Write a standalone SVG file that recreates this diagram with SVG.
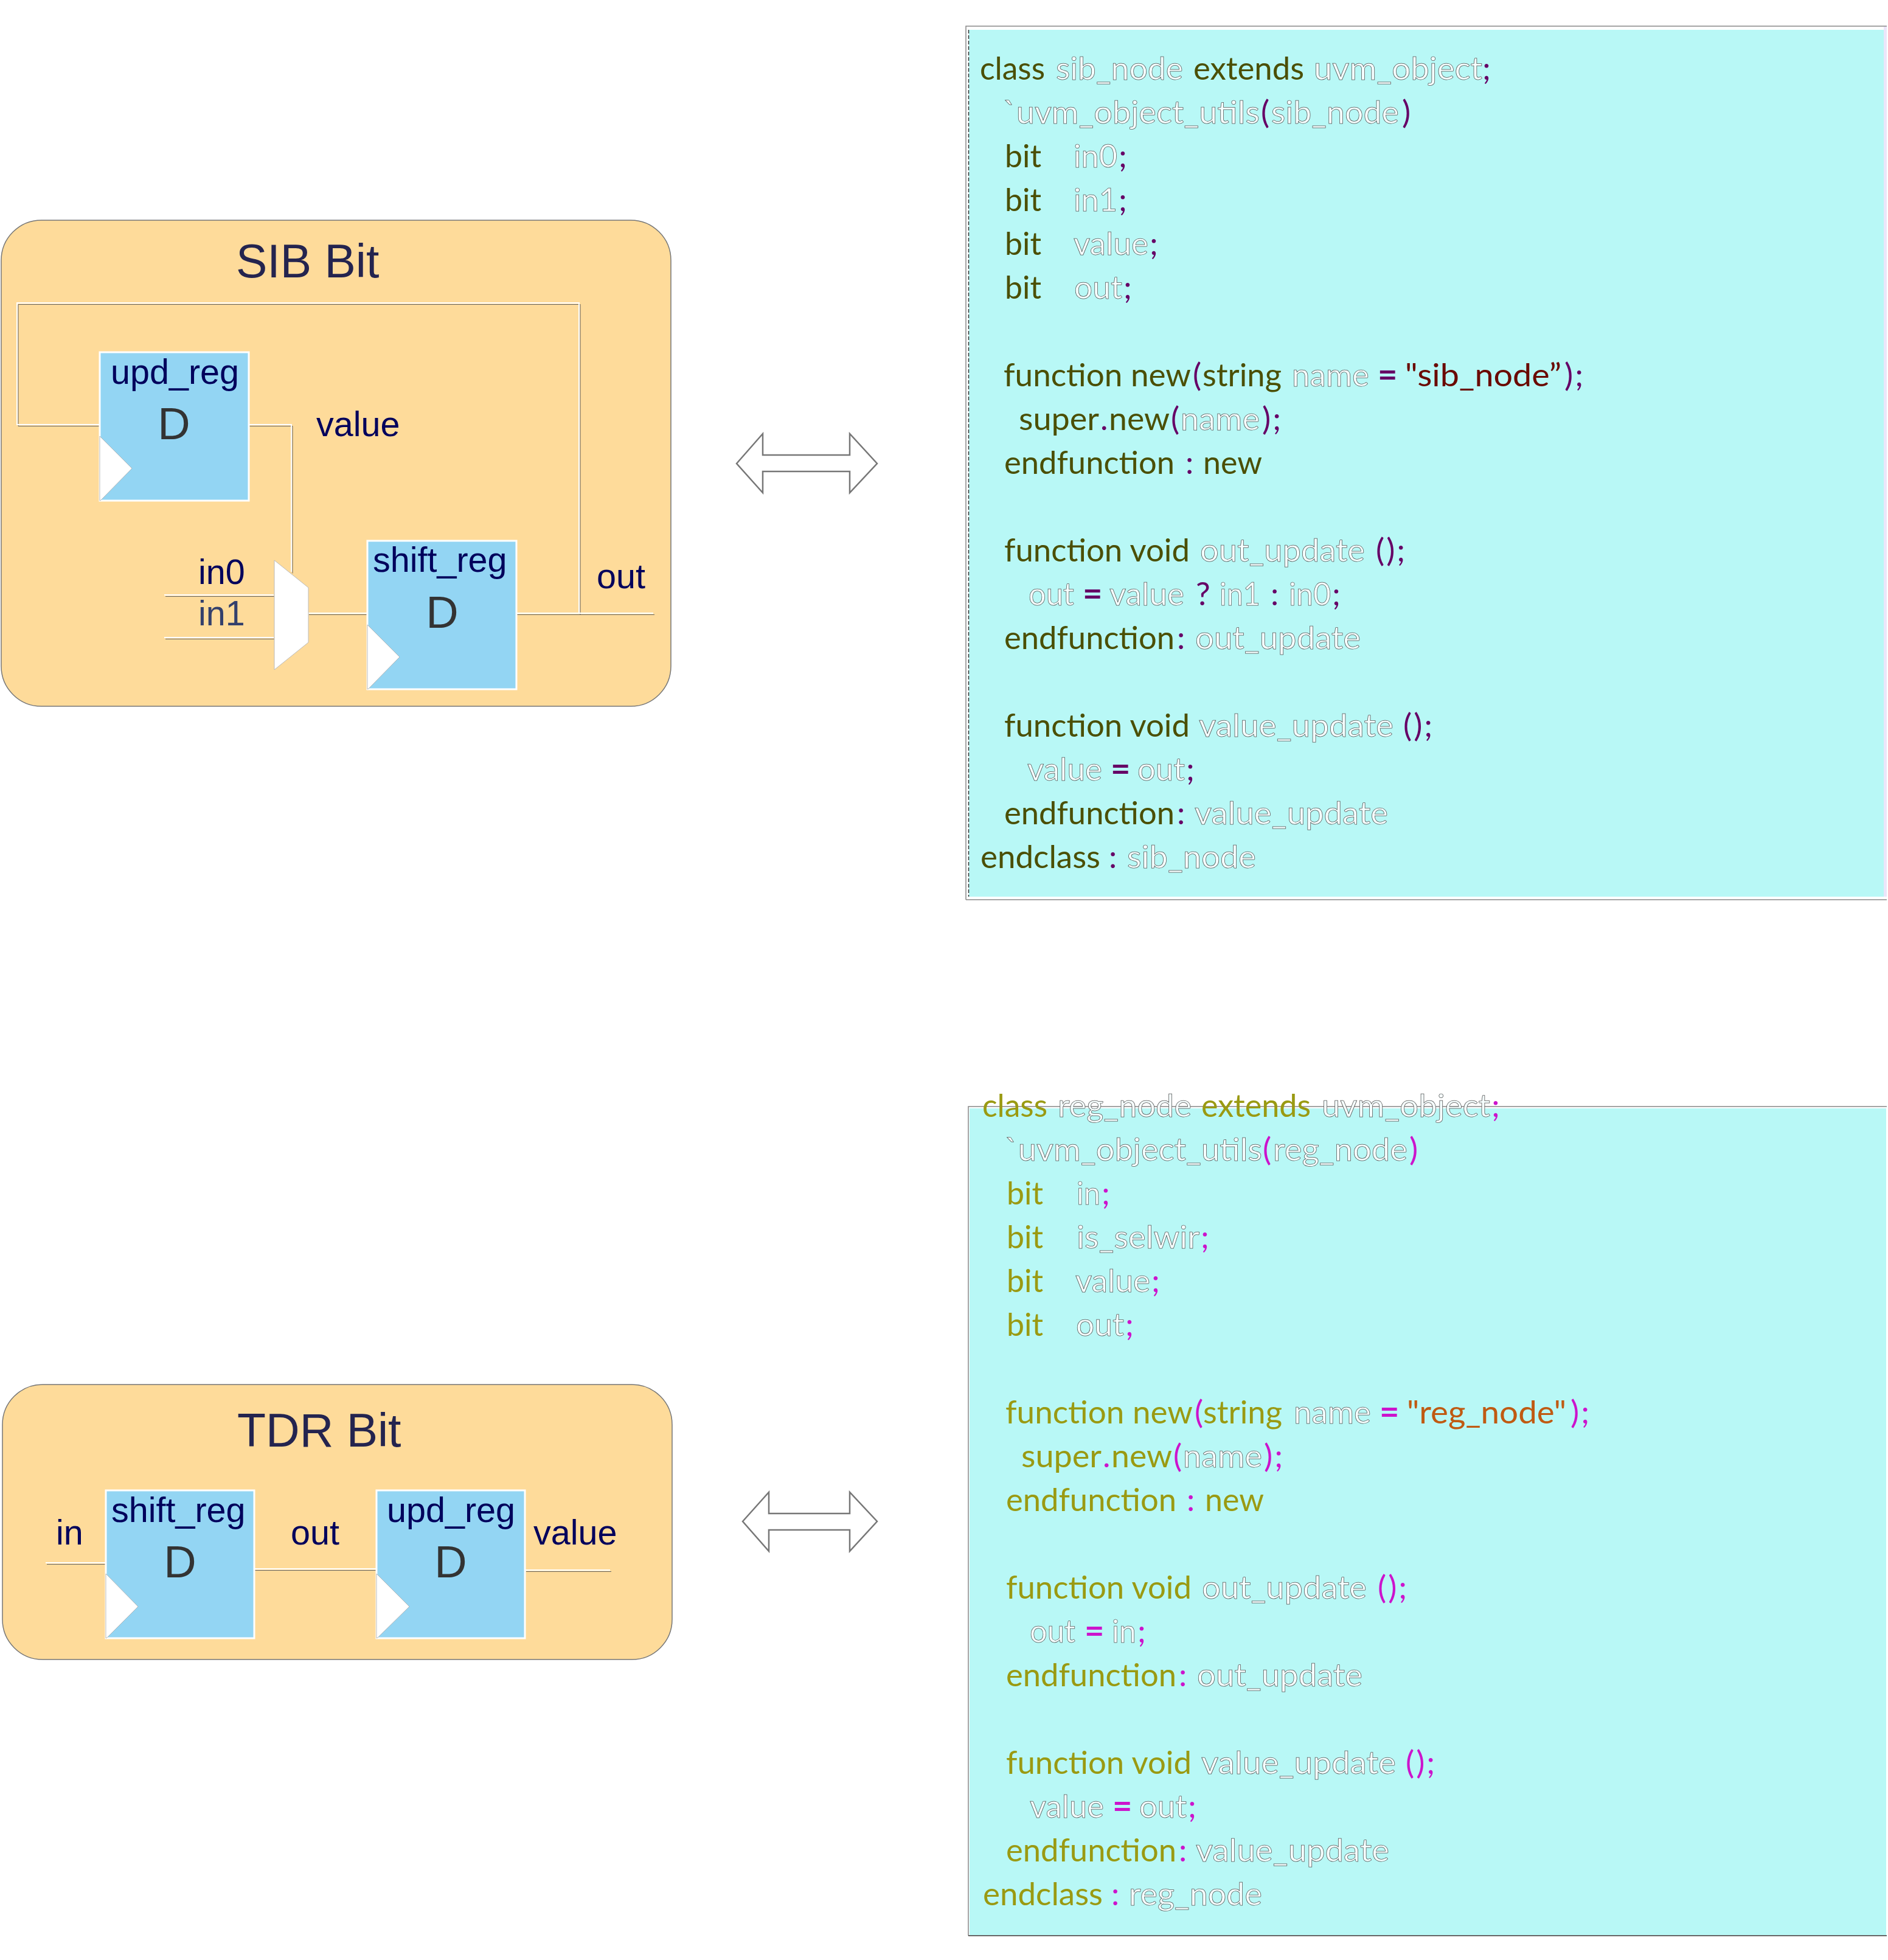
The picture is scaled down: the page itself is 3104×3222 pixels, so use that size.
<svg xmlns="http://www.w3.org/2000/svg" width="3104" height="3222" viewBox="0 0 3104 3222">
<style>
text{font-family:"Liberation Sans",Arial,sans-serif;white-space:pre}
.box{fill:#fedb9a;stroke:#777;stroke-width:1.500}
.ff{fill:#93d5f3;stroke:#fff;stroke-width:3}
.clk{fill:#fff;stroke:#aaa;stroke-width:.8}
.mux{fill:#fff;stroke:#bbb;stroke-width:1}
.lbl{font-size:57.500px;fill:#00005c}
.dim{fill:#34406c}
.ttl{font-size:77px;fill:#24244f}
.d{font-size:74px;fill:#333;text-anchor:middle}
.wd{fill:none;stroke:#666;stroke-width:1}
.wl{fill:none;stroke:#fff;stroke-width:2}
.arw{fill:#fff;stroke:#777;stroke-width:2.500}
.panel{fill:#b8f8f6}
.pale{fill:#ece6fa}
.edge{fill:none;stroke:#888;stroke-width:1.500}
.code text{font-family:Lato,"Open Sans",sans-serif;font-size:53px}
.o{fill:#f6ffff;stroke:#555;stroke-width:.75}
.sp{letter-spacing:3px}
.eq{font-weight:700;font-size:56px}
.p1 .k{fill:#4b4f04}.p1 .s{fill:#660066}.p1 .q{fill:#6a0a00}
.p2 .k{fill:#9a9a12}.p2 .s{fill:#cc14cc}.p2 .q{fill:#c05a12}
</style>
<defs>
<path id="c1" d="M164 699H29V499H953V1009"/>
<path id="c2" d="M409 699H480V941"/>
<path id="c3" d="M271 979H451"/>
<path id="c4" d="M271 1049H451"/>
<path id="c5" d="M507 1009H604"/>
<path id="c6" d="M849 1009H1075"/>
<path id="c7" d="M76 2570H174"/>
<path id="c8" d="M418 2580H619"/>
<path id="c9" d="M864 2582H1004"/>
</defs>
<g id="sib-bit"><rect class="box" x="2" y="362" width="1101" height="799" rx="66" ry="66"/><text class="ttl" x="388" y="456">SIB Bit</text></g>
<g id="tdr-bit"><rect class="box" x="4" y="2276" width="1101" height="452" rx="66" ry="66"/><text class="ttl" x="390" y="2378">TDR Bit</text></g>
<g id="connectors">
<g class="wd" transform="translate(1,1.500)"><use href="#c1"/><use href="#c2"/><use href="#c3"/><use href="#c4"/><use href="#c5"/><use href="#c6"/><use href="#c7"/><use href="#c8"/><use href="#c9"/></g>
<g class="wl" transform="translate(-1,-1)"><use href="#c1"/><use href="#c2"/><use href="#c3"/><use href="#c4"/><use href="#c5"/><use href="#c6"/><use href="#c7"/><use href="#c8"/><use href="#c9"/></g>
</g>
<g id="sib-upd-reg"><rect class="ff" x="164" y="579" width="245" height="244"/><polygon class="clk" points="164,717 217,770 166,822 164,823"/><text class="lbl" x="182" y="631">upd_reg</text><text class="d" x="286" y="722">D</text></g>
<g id="sib-value"><text class="lbl" x="520" y="717">value</text></g>
<g id="sib-mux"><polygon class="mux" points="451,921 507,966 507,1056 451,1101"/></g>
<g id="sib-in0"><text class="lbl" x="326" y="960">in0</text></g>
<g id="sib-in1"><text class="lbl dim" x="326" y="1028">in1</text></g>
<g id="sib-shift-reg"><rect class="ff" x="604" y="889" width="245" height="244"/><polygon class="clk" points="604,1027 657,1080 606,1132 604,1133"/><text class="lbl" x="613" y="940">shift_reg</text><text class="d" x="727" y="1032">D</text></g>
<g id="sib-out"><text class="lbl" x="981" y="967">out</text></g>
<g id="tdr-in"><text class="lbl" x="92" y="2539">in</text></g>
<g id="tdr-shift-reg"><rect class="ff" x="174" y="2450" width="244" height="243"/><polygon class="clk" points="174,2587 227,2641 176,2692 174,2693"/><text class="lbl" x="183" y="2502">shift_reg</text><text class="d" x="296" y="2593">D</text></g>
<g id="tdr-out"><text class="lbl" x="478" y="2539">out</text></g>
<g id="tdr-upd-reg"><rect class="ff" x="619" y="2450" width="244" height="243"/><polygon class="clk" points="619,2587 673,2641 621,2692 619,2693"/><text class="lbl" x="636" y="2502">upd_reg</text><text class="d" x="741" y="2593">D</text></g>
<g id="tdr-value"><text class="lbl" x="877" y="2539">value</text></g>
<g id="arrow-sib"><polygon class="arw" points="1211,762 1254,713 1254,748 1397,748 1397,713 1442,762 1397,810 1397,775 1254,775 1254,810"/></g>
<g id="arrow-tdr"><polygon class="arw" points="1221,2501 1264,2453 1264,2488 1397,2488 1397,2453 1442,2501 1397,2550 1397,2515 1264,2515 1264,2550"/></g>
<g id="code-sib" class="code p1">
<rect class="pale" x="3097" y="43" width="5" height="1431"/>
<rect class="panel" x="1593" y="49" width="1504" height="1425"/>
<path class="edge" d="M1588 1479V43H3102M1588 1479H3102"/>
<path d="M1592.500 49V1474" fill="none" stroke="#333" stroke-width="1.500" stroke-dasharray="6 3"/>
<g transform="translate(0,1.500)">
<text y="129"><tspan class="k" x="1611" textLength="107" lengthAdjust="spacingAndGlyphs">class</tspan> <tspan class="o" x="1736" textLength="209" lengthAdjust="spacingAndGlyphs">sib_node</tspan> <tspan class="k" x="1962" textLength="182" lengthAdjust="spacingAndGlyphs">extends</tspan> <tspan class="o" x="2160" textLength="277" lengthAdjust="spacingAndGlyphs">uvm_object</tspan><tspan class="s" x="2437">;</tspan></text>
<text y="201"><tspan class="o" x="1649" textLength="422" lengthAdjust="spacingAndGlyphs">`uvm_object_utils</tspan><tspan class="s" x="2073">(</tspan><tspan class="o" x="2090" textLength="210" lengthAdjust="spacingAndGlyphs">sib_node</tspan><tspan class="s" x="2305">)</tspan></text>
<text y="273"><tspan class="k" x="1652" textLength="60" lengthAdjust="spacingAndGlyphs">bit</tspan> <tspan class="o" x="1765" textLength="72" lengthAdjust="spacingAndGlyphs">in0</tspan><tspan class="s" x="1839">;</tspan></text>
<text y="345"><tspan class="k" x="1652" textLength="60" lengthAdjust="spacingAndGlyphs">bit</tspan> <tspan class="o" x="1765" textLength="72" lengthAdjust="spacingAndGlyphs">in1</tspan><tspan class="s" x="1839">;</tspan></text>
<text y="417"><tspan class="k" x="1652" textLength="60" lengthAdjust="spacingAndGlyphs">bit</tspan> <tspan class="o" x="1765" textLength="123" lengthAdjust="spacingAndGlyphs">value</tspan><tspan class="s" x="1890">;</tspan></text>
<text y="489"><tspan class="k" x="1652" textLength="60" lengthAdjust="spacingAndGlyphs">bit</tspan> <tspan class="o" x="1766" textLength="79" lengthAdjust="spacingAndGlyphs">out</tspan><tspan class="s" x="1847">;</tspan></text>
<text y="633"><tspan class="k" x="1650" textLength="308" lengthAdjust="spacingAndGlyphs">function new</tspan><tspan class="s" x="1961">(</tspan><tspan class="k" x="1977" textLength="130" lengthAdjust="spacingAndGlyphs">string</tspan> <tspan class="o" x="2124" textLength="127" lengthAdjust="spacingAndGlyphs">name</tspan> <tspan class="s eq" x="2265">=</tspan> <tspan class="q" x="2310" textLength="257" lengthAdjust="spacingAndGlyphs">"sib_node”</tspan><tspan class="s sp" x="2572">);</tspan></text>
<text y="705"><tspan class="k" x="1675" textLength="132" lengthAdjust="spacingAndGlyphs">super</tspan><tspan class="s" x="1809">.</tspan><tspan class="k" x="1823" textLength="100" lengthAdjust="spacingAndGlyphs">new</tspan><tspan class="s" x="1925">(</tspan><tspan class="o" x="1941" textLength="130" lengthAdjust="spacingAndGlyphs">name</tspan><tspan class="s sp" x="2075">);</tspan></text>
<text y="777"><tspan class="k" x="1651" textLength="280" lengthAdjust="spacingAndGlyphs">endfunction</tspan> <tspan class="s" x="1949">:</tspan> <tspan class="k" x="1978" textLength="97" lengthAdjust="spacingAndGlyphs">new</tspan></text>
<text y="921"><tspan class="k" x="1651" textLength="305" lengthAdjust="spacingAndGlyphs">function void</tspan> <tspan class="o" x="1973" textLength="271" lengthAdjust="spacingAndGlyphs">out_update</tspan> <tspan class="s sp" x="2262">();</tspan></text>
<text y="993"><tspan class="o" x="1691" textLength="75" lengthAdjust="spacingAndGlyphs">out</tspan> <tspan class="s eq" x="1780">=</tspan> <tspan class="o" x="1824" textLength="123" lengthAdjust="spacingAndGlyphs">value</tspan> <tspan class="s" x="1966">?</tspan> <tspan class="o" x="2005" textLength="67" lengthAdjust="spacingAndGlyphs">in1</tspan> <tspan class="s" x="2089">:</tspan> <tspan class="o" x="2119" textLength="69" lengthAdjust="spacingAndGlyphs">in0</tspan><tspan class="s" x="2190">;</tspan></text>
<text y="1065"><tspan class="k" x="1651" textLength="280" lengthAdjust="spacingAndGlyphs">endfunction</tspan><tspan class="s" x="1935">:</tspan> <tspan class="o" x="1965" textLength="272" lengthAdjust="spacingAndGlyphs">out_update</tspan></text>
<text y="1209"><tspan class="k" x="1651" textLength="305" lengthAdjust="spacingAndGlyphs">function void</tspan> <tspan class="o" x="1971" textLength="320" lengthAdjust="spacingAndGlyphs">value_update</tspan> <tspan class="s sp" x="2307">();</tspan></text>
<text y="1281"><tspan class="o" x="1689" textLength="123" lengthAdjust="spacingAndGlyphs">value</tspan> <tspan class="s eq" x="1826">=</tspan> <tspan class="o" x="1870" textLength="78" lengthAdjust="spacingAndGlyphs">out</tspan><tspan class="s" x="1950">;</tspan></text>
<text y="1353"><tspan class="k" x="1651" textLength="280" lengthAdjust="spacingAndGlyphs">endfunction</tspan><tspan class="s" x="1935">:</tspan> <tspan class="o" x="1964" textLength="318" lengthAdjust="spacingAndGlyphs">value_update</tspan></text>
<text y="1425"><tspan class="k" x="1612" textLength="197" lengthAdjust="spacingAndGlyphs">endclass</tspan> <tspan class="s" x="1823">:</tspan> <tspan class="o" x="1853" textLength="212" lengthAdjust="spacingAndGlyphs">sib_node</tspan></text>
</g>
</g>
<g id="code-tdr" class="code p2">
<rect class="panel" x="1594" y="1822" width="1507" height="1359"/>
<path d="M1592 3182V1819H3102" class="edge"/>
<path d="M1592 3182H3102" fill="none" stroke="#333" stroke-width="1.500"/>
<g transform="translate(0,1.500)">
<text y="1834"><tspan class="k" x="1615" textLength="107" lengthAdjust="spacingAndGlyphs">class</tspan> <tspan class="o" x="1739" textLength="220" lengthAdjust="spacingAndGlyphs">reg_node</tspan> <tspan class="k" x="1975" textLength="180" lengthAdjust="spacingAndGlyphs">extends</tspan> <tspan class="o" x="2173" textLength="277" lengthAdjust="spacingAndGlyphs">uvm_object</tspan><tspan class="s" x="2452">;</tspan></text>
<text y="1906"><tspan class="o" x="1652" textLength="423" lengthAdjust="spacingAndGlyphs">`uvm_object_utils</tspan><tspan class="s" x="2076">(</tspan><tspan class="o" x="2093" textLength="221" lengthAdjust="spacingAndGlyphs">reg_node</tspan><tspan class="s" x="2317">)</tspan></text>
<text y="1978"><tspan class="k" x="1655" textLength="60" lengthAdjust="spacingAndGlyphs">bit</tspan> <tspan class="o" x="1770" textLength="39" lengthAdjust="spacingAndGlyphs">in</tspan><tspan class="s" x="1811">;</tspan></text>
<text y="2050"><tspan class="k" x="1655" textLength="60" lengthAdjust="spacingAndGlyphs">bit</tspan> <tspan class="o" x="1770" textLength="202" lengthAdjust="spacingAndGlyphs">is_selwir</tspan><tspan class="s" x="1974">;</tspan></text>
<text y="2122"><tspan class="k" x="1655" textLength="60" lengthAdjust="spacingAndGlyphs">bit</tspan> <tspan class="o" x="1768" textLength="123" lengthAdjust="spacingAndGlyphs">value</tspan><tspan class="s" x="1893">;</tspan></text>
<text y="2194"><tspan class="k" x="1655" textLength="60" lengthAdjust="spacingAndGlyphs">bit</tspan> <tspan class="o" x="1769" textLength="79" lengthAdjust="spacingAndGlyphs">out</tspan><tspan class="s" x="1850">;</tspan></text>
<text y="2338"><tspan class="k" x="1653" textLength="308" lengthAdjust="spacingAndGlyphs">function new</tspan><tspan class="s" x="1964">(</tspan><tspan class="k" x="1978" textLength="130" lengthAdjust="spacingAndGlyphs">string</tspan> <tspan class="o" x="2127" textLength="127" lengthAdjust="spacingAndGlyphs">name</tspan> <tspan class="s eq" x="2268">=</tspan> <tspan class="q" x="2313" textLength="262" lengthAdjust="spacingAndGlyphs">"reg_node"</tspan><tspan class="s sp" x="2582">);</tspan></text>
<text y="2410"><tspan class="k" x="1679" textLength="132" lengthAdjust="spacingAndGlyphs">super</tspan><tspan class="s" x="1813">.</tspan><tspan class="k" x="1827" textLength="100" lengthAdjust="spacingAndGlyphs">new</tspan><tspan class="s" x="1929">(</tspan><tspan class="o" x="1945" textLength="130" lengthAdjust="spacingAndGlyphs">name</tspan><tspan class="s sp" x="2078">);</tspan></text>
<text y="2482"><tspan class="k" x="1654" textLength="280" lengthAdjust="spacingAndGlyphs">endfunction</tspan> <tspan class="s" x="1951">:</tspan> <tspan class="k" x="1981" textLength="97" lengthAdjust="spacingAndGlyphs">new</tspan></text>
<text y="2626"><tspan class="k" x="1654" textLength="305" lengthAdjust="spacingAndGlyphs">function void</tspan> <tspan class="o" x="1976" textLength="271" lengthAdjust="spacingAndGlyphs">out_update</tspan> <tspan class="s sp" x="2265">();</tspan></text>
<text y="2698"><tspan class="o" x="1693" textLength="75" lengthAdjust="spacingAndGlyphs">out</tspan> <tspan class="s eq" x="1783">=</tspan> <tspan class="o" x="1828" textLength="40" lengthAdjust="spacingAndGlyphs">in</tspan><tspan class="s" x="1870">;</tspan></text>
<text y="2770"><tspan class="k" x="1654" textLength="280" lengthAdjust="spacingAndGlyphs">endfunction</tspan><tspan class="s" x="1938">:</tspan> <tspan class="o" x="1968" textLength="272" lengthAdjust="spacingAndGlyphs">out_update</tspan></text>
<text y="2914"><tspan class="k" x="1654" textLength="305" lengthAdjust="spacingAndGlyphs">function void</tspan> <tspan class="o" x="1975" textLength="320" lengthAdjust="spacingAndGlyphs">value_update</tspan> <tspan class="s sp" x="2311">();</tspan></text>
<text y="2986"><tspan class="o" x="1693" textLength="122" lengthAdjust="spacingAndGlyphs">value</tspan> <tspan class="s eq" x="1829">=</tspan> <tspan class="o" x="1873" textLength="78" lengthAdjust="spacingAndGlyphs">out</tspan><tspan class="s" x="1953">;</tspan></text>
<text y="3058"><tspan class="k" x="1654" textLength="280" lengthAdjust="spacingAndGlyphs">endfunction</tspan><tspan class="s" x="1938">:</tspan> <tspan class="o" x="1966" textLength="318" lengthAdjust="spacingAndGlyphs">value_update</tspan></text>
<text y="3130"><tspan class="k" x="1616" textLength="197" lengthAdjust="spacingAndGlyphs">endclass</tspan> <tspan class="s" x="1827">:</tspan> <tspan class="o" x="1856" textLength="219" lengthAdjust="spacingAndGlyphs">reg_node</tspan></text>
</g>
</g>
</svg>
